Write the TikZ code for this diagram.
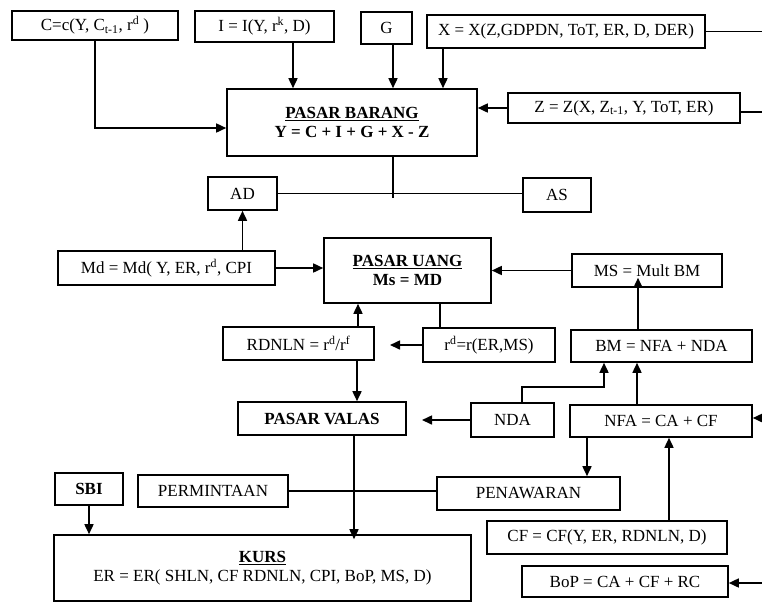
\documentclass[tikz,border=0pt]{standalone}
\usepackage{fontspec}
\setmainfont{Liberation Serif}
\usepackage{tikz}
\usetikzlibrary{arrows.meta,calc}

\begin{document}
\begin{tikzpicture}[x=1pt,y=-1pt,line width=1.6pt,
    font=\fontsize{17}{19}\selectfont,
    kotak/.style={draw,line width=1.6pt,inner sep=2pt,align=center},
    panah/.style={-{Triangle[length=10pt,width=9pt]}}]
    \useasboundingbox (0,0) rectangle (762,603);
    % pasar barang
    \node[kotak,minimum width=166pt,minimum height=29pt] (cfun) at (95,25.5) {C=c(Y, C\textsubscript{t-1}, r\textsuperscript{d} )};
    \node[kotak,minimum width=139pt,minimum height=31pt] (ifun) at (264.5,26.5) {I = I(Y, r\textsuperscript{k}, D)};
    \node[kotak,minimum width=51pt,minimum height=32pt] (gov) at (386.5,28) {G};
    \node[kotak,minimum width=278pt,minimum height=33pt] (xfun) at (566,31.5) {X = X(Z,GDPDN, ToT, ER, D, DER)};
    \node[kotak,minimum width=250pt,minimum height=67pt] (barang) at (352,122.5) {\textbf{\underline{PASAR BARANG}}\\\textbf{Y = C + I + G + X - Z}};
    \node[kotak,minimum width=232pt,minimum height=30pt] (zfun) at (624,108) {Z = Z(X, Z\textsubscript{t-1}, Y, ToT, ER)};
    \node[kotak,minimum width=69pt,minimum height=33pt] (ad) at (242.5,193.5) {AD};
    \node[kotak,minimum width=68pt,minimum height=34pt] (as) at (557,195) {AS};
    % pasar uang
    \node[kotak,minimum width=217pt,minimum height=34pt] (md) at (166.5,268) {Md = Md( Y, ER, r\textsuperscript{d}, CPI};
    \node[kotak,minimum width=167pt,minimum height=65pt] (uang) at (407.5,270.5) {\textbf{\underline{PASAR UANG}}\\\textbf{Ms = MD}};
    \node[kotak,minimum width=150pt,minimum height=33pt] (ms) at (647,270.5) {MS = Mult BM};
    \node[kotak,minimum width=151pt,minimum height=33pt] (rdnln) at (298.5,343.5) {RDNLN = r\textsuperscript{d}/r\textsuperscript{f}};
    \node[kotak,minimum width=132pt,minimum height=34pt] (rd) at (489,345) {r\textsuperscript{d}=r(ER,MS)};
    \node[kotak,minimum width=181pt,minimum height=32pt] (bm) at (661.5,346) {BM = NFA + NDA};
    % pasar valas
    \node[kotak,minimum width=168pt,minimum height=33pt] (valas) at (322,418.5) {\textbf{PASAR VALAS}};
    \node[kotak,minimum width=83pt,minimum height=34pt] (nda) at (512.5,420) {NDA};
    \node[kotak,minimum width=182pt,minimum height=32pt] (nfa) at (661,421) {NFA = CA + CF};
    \node[kotak,minimum width=68pt,minimum height=32pt] (sbi) at (89,489) {\textbf{SBI}};
    \node[kotak,minimum width=150pt,minimum height=32pt] (minta) at (213,491) {PERMINTAAN};
    \node[kotak,minimum width=183pt,minimum height=33pt] (tawar) at (528.5,493.5) {PENAWARAN};
    \node[kotak,minimum width=240pt,minimum height=33pt] (cflow) at (607,537.5) {CF = CF(Y, ER, RDNLN, D)};
    \node[kotak,minimum width=417pt,minimum height=66pt] (kurs) at (262.5,568) {\textbf{\underline{KURS}}\\ER = ER( SHLN, CF RDNLN, CPI, BoP, MS, D)};
    \node[kotak,minimum width=206pt,minimum height=31pt] (bop) at (625,581.5) {BoP = CA + CF + RC};
    % titik bantu
    \coordinate (kanan) at (762,0);
    \coordinate (simpul) at (393,198);
    \coordinate (ujungrd) at (390,345);
    \coordinate (ujungnda) at (422,420);
    \coordinate (lutut) at (604,387);
    % panah
    \draw[panah] (cfun.south) |- ([yshift=-5.5pt]barang.west);
    \draw[panah] ([xshift=28.5pt]ifun.south) -- ([xshift=28.5pt]ifun.south |- barang.north);
    \draw[panah] ([xshift=6.5pt]gov.south) -- ([xshift=6.5pt]gov.south |- barang.north);
    \draw[panah] ([xshift=-123pt]xfun.south) -- ([xshift=-123pt]xfun.south |- barang.north);
    \draw (xfun.east) -- (xfun.east -| kanan);
    \draw[panah] (zfun.west) -- (zfun.west -| barang.east);
    \draw ([yshift=-4pt]zfun.east) -- ([yshift=-4pt]zfun.east -| kanan);
    \draw (barang.south -| simpul) -- (simpul);
    \draw (ad.east) -- (ad.east -| as.west);
    \draw[panah] (md.north -| ad.south) -- (ad.south);
    \draw[panah] (md.east) -- (md.east -| uang.west);
    \draw[panah] (ms.west) -- (ms.west -| uang.east);
    \draw[panah] ([xshift=59.5pt]rdnln.north) -- ([xshift=59.5pt]rdnln.north |- uang.south);
    \draw[panah] ([xshift=58.5pt]rdnln.south) -- ([xshift=58.5pt]rdnln.south |- valas.north);
    \draw ([xshift=-49pt]rd.north |- uang.south) -- ([xshift=-49pt]rd.north);
    \draw[panah] (rd.west) -- (ujungrd);
    \draw[panah,shorten >=-10pt] ([xshift=-23.5pt]bm.north) -- ([xshift=-23.5pt]bm.north |- ms.south);
    \draw[panah] ([xshift=-24pt]nfa.north) -- ([xshift=-24pt]nfa.north |- bm.south);
    \draw[panah] ([xshift=9.5pt]nda.north) |- (lutut) -- (lutut |- bm.south);
    \draw[panah] (nda.west) -- (ujungnda);
    \draw[panah] ([yshift=3pt]nfa.east -| kanan) -- ([yshift=3pt]nfa.east);
    \draw[panah] ([xshift=-74pt]nfa.south) -- ([xshift=-74pt]nfa.south |- tawar.north);
    \draw[panah] ([xshift=62pt]cflow.north) -- ([xshift=62pt]cflow.north |- nfa.south);
    \draw[panah,shorten >=-5pt] ([xshift=32pt]valas.south) -- ([xshift=32pt]valas.south |- kurs.north);
    \draw[panah] (sbi.south) -- (sbi.south |- kurs.north);
    \draw (minta.east) -- (minta.east -| tawar.west);
    \draw[panah] ([yshift=-1.5pt]bop.east -| kanan) -- ([yshift=-1.5pt]bop.east);
\end{tikzpicture}
\end{document}
